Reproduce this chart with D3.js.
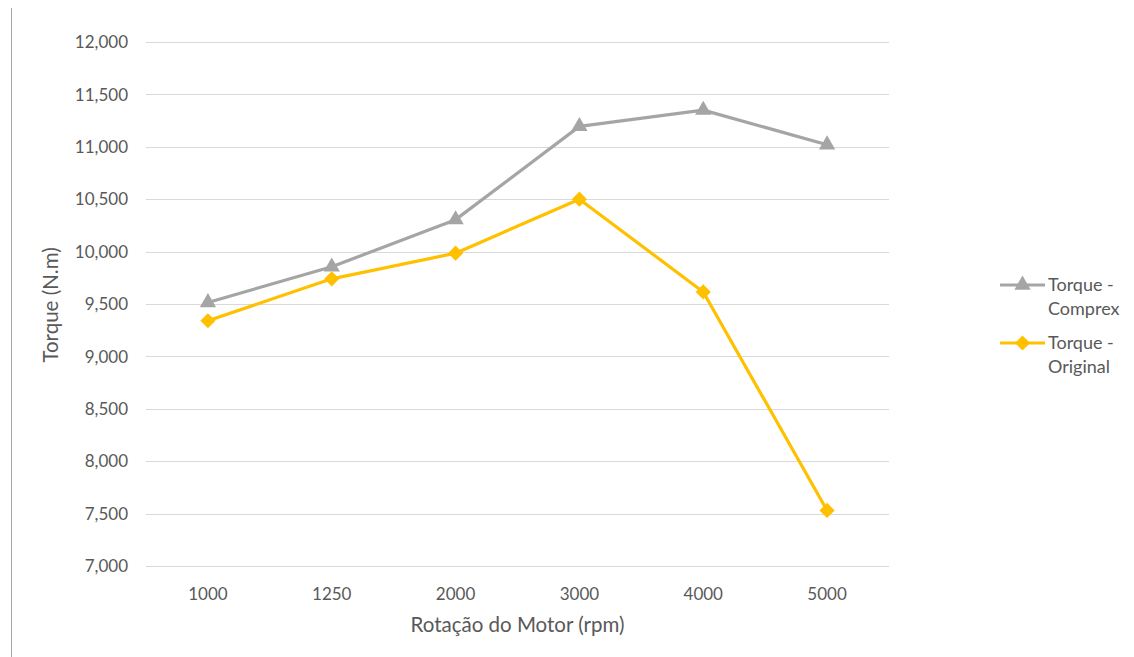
<!DOCTYPE html>
<html>
<head>
<meta charset="utf-8">
<script src="https://cdn.jsdelivr.net/npm/d3@7"></script>
<style>
  html, body { margin: 0; padding: 0; background: #fff; }
  svg { display: block; }
  text { font-family: Lato, "Open Sans", sans-serif; fill: #595959; }
</style>
</head>
<body>
<svg id="chart" width="1134" height="657"></svg>
<script>
// Engine speed categories (rpm)
const categories = ["1000", "1250", "2000", "3000", "4000", "5000"];
// Torque readings (N.m) for each configuration
const torqueComprex  = [9515, 9855, 10305, 11195, 11350, 11020];
const torqueOriginal = [9340, 9740, 9985, 10500, 9615, 7530];
// Y axis ticks
const yTicks = [7000, 7500, 8000, 8500, 9000, 9500, 10000, 10500, 11000, 11500, 12000];

// Square diamond marker (a square turned 45 degrees)
const squareDiamond = {
  draw(context, size) {
    const r = Math.sqrt(size / 2);
    context.moveTo(0, -r);
    context.lineTo(r, 0);
    context.lineTo(0, r);
    context.lineTo(-r, 0);
    context.closePath();
  }
};

const series = [
  { name: ["Torque -", "Comprex"], values: torqueComprex, color: "#A5A5A5", marker: d3.symbolTriangle, size: 115 },
  { name: ["Torque -", "Original"], values: torqueOriginal, color: "#FFC000", marker: squareDiamond, size: 115 }
];

const svg = d3.select("#chart");
const plot = { left: 146, right: 889, top: 42, bottom: 566 };

const x = d3.scaleBand().domain(categories).range([plot.left, plot.right]);
const y = d3.scaleLinear().domain([7000, 12000]).range([plot.bottom, plot.top]);
const fmt = d3.format(",");

// Left frame edge
svg.append("line")
  .attr("x1", 11.5).attr("x2", 11.5).attr("y1", 8).attr("y2", 657)
  .attr("stroke", "#A6A6A6").attr("stroke-width", 1);

// Horizontal gridlines
svg.append("g").selectAll("line").data(yTicks).join("line")
  .attr("x1", plot.left).attr("x2", plot.right)
  .attr("y1", d => Math.round(y(d)) + 0.5).attr("y2", d => Math.round(y(d)) + 0.5)
  .attr("stroke", "#D9D9D9").attr("stroke-width", 1);

// Y tick labels
svg.append("g").selectAll("text").data(yTicks).join("text")
  .attr("x", 128).attr("y", d => y(d))
  .attr("dy", "0.36em")
  .attr("text-anchor", "end")
  .style("font-size", "17px")
  .text(d => fmt(d));

// X tick labels
svg.append("g").selectAll("text").data(categories).join("text")
  .attr("x", d => x(d) + x.bandwidth() / 2).attr("y", 600)
  .attr("text-anchor", "middle")
  .style("font-size", "17px")
  .text(d => d);

// Axis titles
svg.append("text")
  .attr("x", (plot.left + plot.right) / 2).attr("y", 632)
  .attr("text-anchor", "middle")
  .style("font-size", "20.5px")
  .text("Rotação do Motor (rpm)");

svg.append("text")
  .attr("transform", "translate(58,305) rotate(-90)")
  .attr("text-anchor", "middle")
  .style("font-size", "20.5px")
  .text("Torque (N.m)");

// Series lines and markers
const line = d3.line()
  .x((d, i) => x(categories[i]) + x.bandwidth() / 2)
  .y(d => y(d));

series.forEach(s => {
  svg.append("path")
    .datum(s.values)
    .attr("d", line)
    .attr("fill", "none")
    .attr("stroke", s.color)
    .attr("stroke-width", 3.2)
    .attr("stroke-linejoin", "round");

  svg.append("g").selectAll("path").data(s.values).join("path")
    .attr("transform", (d, i) => `translate(${x(categories[i]) + x.bandwidth() / 2},${y(d)})`)
    .attr("d", d3.symbol().type(s.marker).size(s.size))
    .attr("fill", s.color);
});

// Legend
const legend = svg.append("g");
series.forEach((s, i) => {
  const ly = 285 + i * 58;
  const g = legend.append("g");
  g.append("line")
    .attr("x1", 1000).attr("x2", 1045).attr("y1", ly).attr("y2", ly)
    .attr("stroke", s.color).attr("stroke-width", 3.2);
  g.append("path")
    .attr("transform", `translate(1022.5,${ly})`)
    .attr("d", d3.symbol().type(s.marker).size(s.size))
    .attr("fill", s.color);
  g.append("text")
    .attr("x", 1048).attr("y", ly + 6)
    .style("font-size", "18px")
    .text(s.name[0]);
  g.append("text")
    .attr("x", 1048).attr("y", ly + 30)
    .style("font-size", "18px")
    .text(s.name[1]);
});
</script>
</body>
</html>
